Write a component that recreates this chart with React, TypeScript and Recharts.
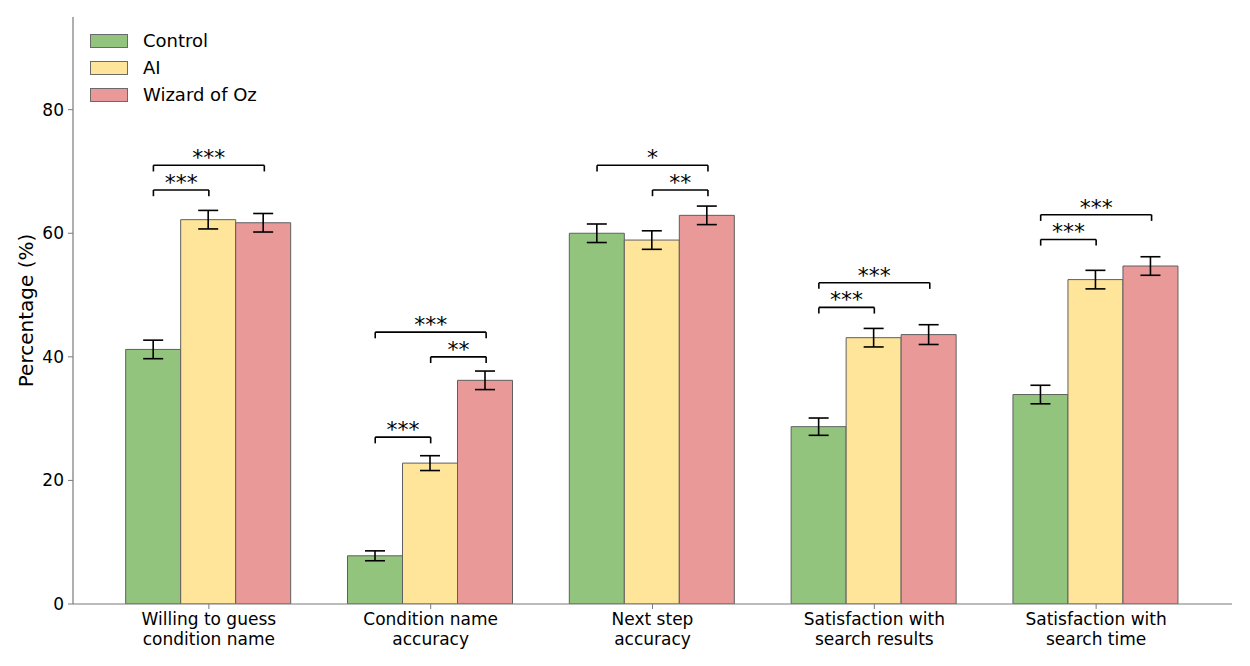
import React from 'react';
import { BarChart, Bar, XAxis, YAxis, ErrorBar, ReferenceLine } from 'recharts';

const categories = [
  'Willing to guess\ncondition name',
  'Condition name\naccuracy',
  'Next step\naccuracy',
  'Satisfaction with\nsearch results',
  'Satisfaction with\nsearch time',
];

const controlVals = [41.2, 7.8, 60.0, 28.7, 33.9];
const aiVals = [62.2, 22.8, 58.9, 43.1, 52.5];
const wozVals = [61.7, 36.2, 62.9, 43.6, 54.7];

const controlErr = [1.5, 0.8, 1.5, 1.4, 1.5];
const aiErr = [1.5, 1.2, 1.5, 1.5, 1.5];
const wozErr = [1.5, 1.5, 1.5, 1.6, 1.5];

const yTicks = [0, 20, 40, 60, 80];

// group index, first bar, second bar (0 control, 1 AI, 2 WoZ), height, stars
const brackets = [
  { g: 0, a: 0, b: 1, y: 67, text: '***' },
  { g: 0, a: 0, b: 2, y: 71, text: '***' },
  { g: 1, a: 0, b: 1, y: 27, text: '***' },
  { g: 1, a: 1, b: 2, y: 40, text: '**' },
  { g: 1, a: 0, b: 2, y: 44, text: '***' },
  { g: 2, a: 1, b: 2, y: 67, text: '**' },
  { g: 2, a: 0, b: 2, y: 71, text: '*' },
  { g: 3, a: 0, b: 1, y: 48, text: '***' },
  { g: 3, a: 0, b: 2, y: 52, text: '***' },
  { g: 4, a: 0, b: 1, y: 59, text: '***' },
  { g: 4, a: 0, b: 2, y: 63, text: '***' },
];

const series = [
  { key: 'control', err: 'controlErr', name: 'Control', color: '#93c47d' },
  { key: 'ai', err: 'aiErr', name: 'AI', color: '#ffe599' },
  { key: 'woz', err: 'wozErr', name: 'Wizard of Oz', color: '#ea9999' },
];

const data = categories.map((c, i) => ({
  cat: c,
  pos: i,
  control: controlVals[i],
  ai: aiVals[i],
  woz: wozVals[i],
  controlErr: controlErr[i],
  aiErr: aiErr[i],
  wozErr: wozErr[i],
}));

const FONT = '"DejaVu Sans", sans-serif';
const AXIS = '#7a7a7a';
const BAR_W = 0.25;
const TICK_LEN = 1;

// plot is 1159px wide, x limits run from -0.6125 to 4.6125 like matplotlib
const PX_PER_UNIT = 1159 / 5.225;
const CAT_PAD = 0.1125 * PX_PER_UNIT;
const NUM_PAD = 0.6125 * PX_PER_UNIT;

const barX = (g: number, s: number) => g + (s - 1) * BAR_W;

const CatTick = (props: any) => {
  const { x, y, payload } = props;
  const lines = String(payload.value).split('\n');
  return (
    <text x={x} y={y} textAnchor="middle" fontSize={17} fontFamily={FONT} fill="#000">
      {lines.map((l, i) => (
        <tspan key={i} x={x} dy={i === 0 ? 14 : 20}>{l}</tspan>
      ))}
    </text>
  );
};

export default function App() {
  return (
    <div style={{ position: 'absolute', left: 0, top: 0, width: 1250, height: 666, background: '#fff', fontFamily: FONT }}>
      <BarChart
        width={1250}
        height={666}
        data={data}
        margin={{ top: 17, right: 18, bottom: 0, left: 0 }}
        barCategoryGap="12.5%"
        barGap={0}
      >
        <XAxis
          dataKey="cat"
          height={62}
          padding={{ left: CAT_PAD, right: CAT_PAD }}
          tick={<CatTick />}
          tickSize={5}
          tickMargin={2}
          interval={0}
          stroke={AXIS}
          axisLine={{ stroke: AXIS, strokeWidth: 1.2 }}
          tickLine={{ stroke: AXIS }}
        />
        <XAxis
          xAxisId="num"
          dataKey="pos"
          type="number"
          domain={[0, 4]}
          padding={{ left: NUM_PAD, right: NUM_PAD }}
          hide
        />
        <YAxis
          width={73}
          domain={[0, 95]}
          ticks={yTicks}
          allowDataOverflow
          tickSize={5}
          tickMargin={4}
          tick={{ fontSize: 17, fill: '#000', fontFamily: FONT }}
          axisLine={{ stroke: AXIS, strokeWidth: 1.2 }}
          tickLine={{ stroke: AXIS }}
          label={{ value: 'Percentage (%)', angle: -90, position: 'center', dx: -11, fontSize: 20, fill: '#000', fontFamily: FONT }}
        />
        {series.map((s) => (
          <Bar key={s.key} dataKey={s.key} name={s.name} fill={s.color} stroke="#5f5f5f" strokeWidth={1} isAnimationActive={false}>
            <ErrorBar dataKey={s.err} width={10} stroke="#000" strokeWidth={1.6} />
          </Bar>
        ))}
        {brackets.map((b, i) => {
          const x1 = barX(b.g, b.a);
          const x2 = barX(b.g, b.b);
          return (
            <React.Fragment key={i}>
              <ReferenceLine
                xAxisId="num"
                ifOverflow="visible"
                segment={[{ x: x1, y: b.y }, { x: x2, y: b.y }]}
                stroke="#000"
                strokeWidth={1.6}
                label={{ value: b.text, position: 'top', offset: 0, fontSize: 22, fill: '#000', fontFamily: FONT }}
              />
              <ReferenceLine
                xAxisId="num"
                ifOverflow="visible"
                segment={[{ x: x1, y: b.y }, { x: x1, y: b.y - TICK_LEN }]}
                stroke="#000"
                strokeWidth={1.6}
              />
              <ReferenceLine
                xAxisId="num"
                ifOverflow="visible"
                segment={[{ x: x2, y: b.y }, { x: x2, y: b.y - TICK_LEN }]}
                stroke="#000"
                strokeWidth={1.6}
              />
            </React.Fragment>
          );
        })}
      </BarChart>
      <div style={{ position: 'absolute', left: 90, top: 27 }}>
        {series.map((s) => (
          <div key={s.key} style={{ display: 'flex', alignItems: 'center', height: 27 }}>
            <div style={{ width: 36, height: 12, background: s.color, border: '1px solid #6a6a6a' }} />
            <span style={{ marginLeft: 15, fontSize: 18, color: '#000' }}>{s.name}</span>
          </div>
        ))}
      </div>
    </div>
  );
}
